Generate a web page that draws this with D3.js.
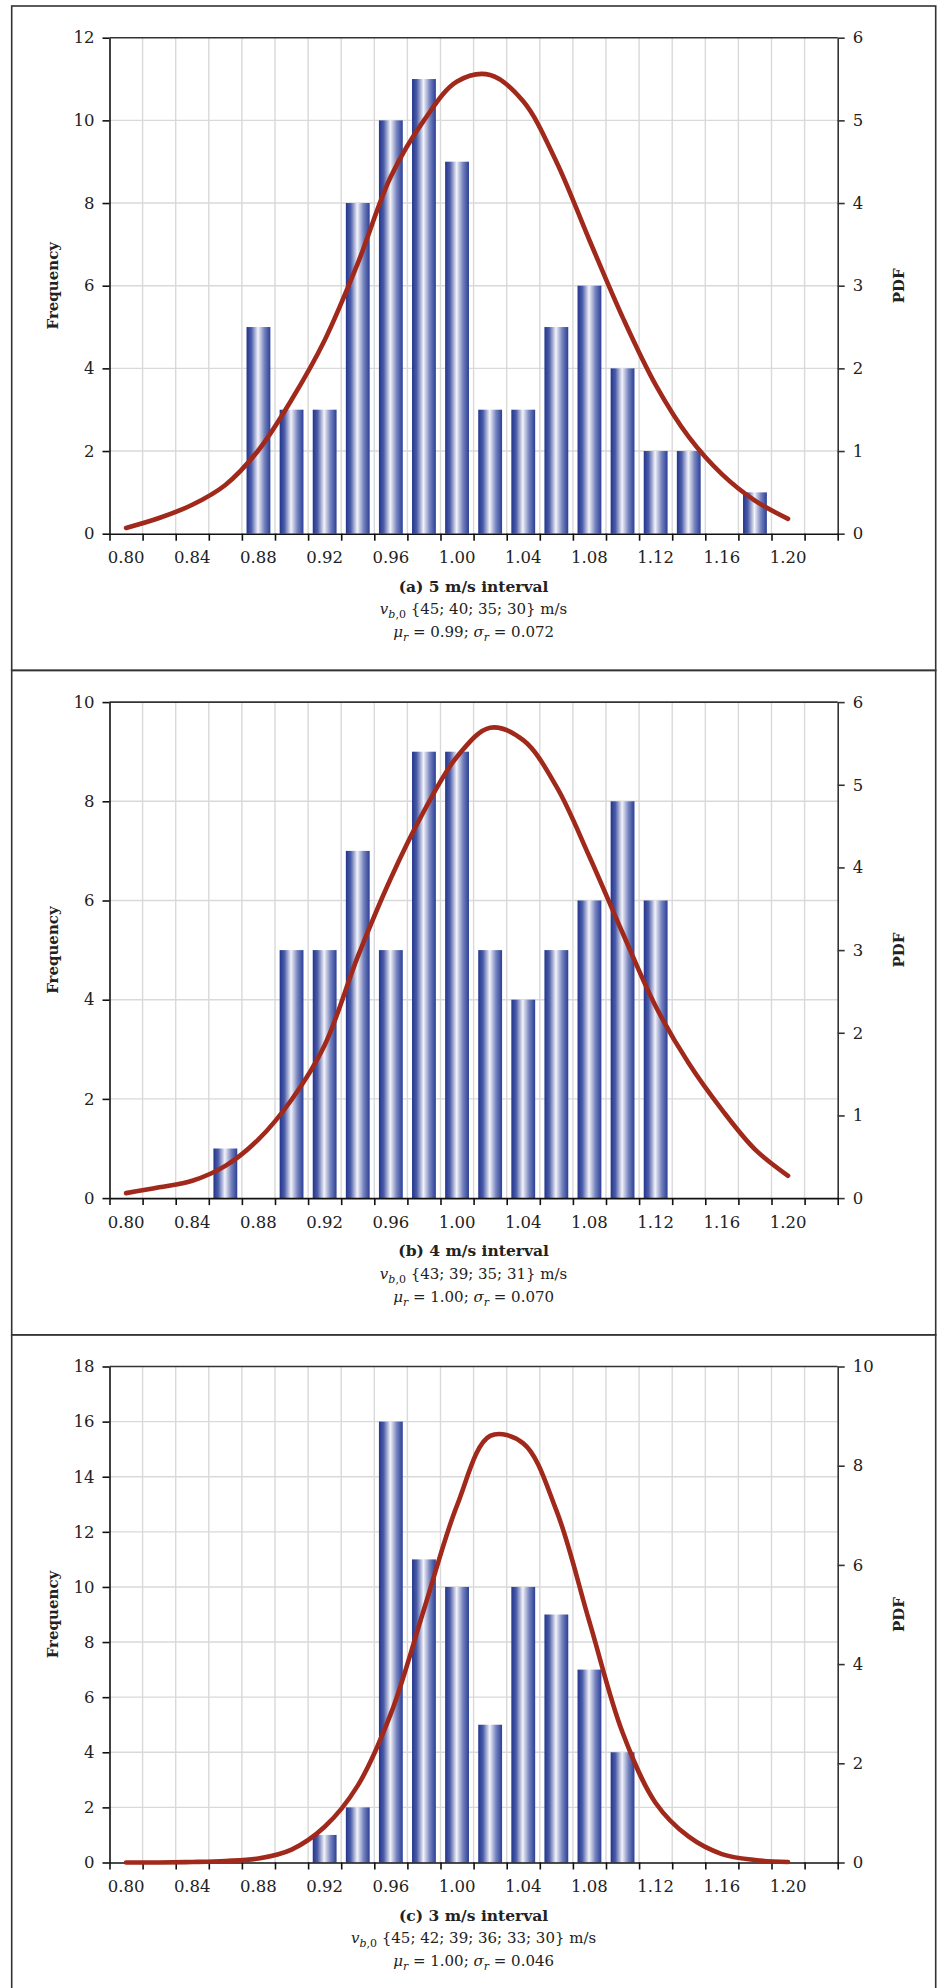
<!DOCTYPE html>
<html>
<head>
<meta charset="utf-8">
<script src="https://cdn.jsdelivr.net/npm/d3@7"></script>
<style>
    body { margin: 0; background: #fff; }
    text { font-family: "DejaVu Serif", serif; fill: #222; }
</style>
</head>
<body>
<svg id="chart" width="940" height="1988"></svg>
<script>
// categories of the histogram (bin labels, 0.02 wide)
const categories = ['0.80','0.82','0.84','0.86','0.88','0.90','0.92','0.94','0.96','0.98','1.00',
                    '1.02','1.04','1.06','1.08','1.10','1.12','1.14','1.16','1.18','1.20','1.22']
const tickLabels = ['0.80','0.84','0.88','0.92','0.96','1.00','1.04','1.08','1.12','1.16','1.20']
// the PDF line runs from 0.80 to 1.20
const pdfCategories = categories.slice(0, 21)

// (a) 5 m/s interval
const freqA = [0,0,0,0,5,3,3,8,10,11,9,3,3,5,6,4,2,2,0,1,0,0]
const pdfA  = [0.07,0.19,0.35,0.59,1.01,1.62,2.34,3.27,4.32,5.00,5.47,5.55,5.23,4.50,3.55,2.62,1.80,1.17,0.72,0.40,0.18]
// (b) 4 m/s interval
const freqB = [0,0,0,1,0,5,5,7,5,9,9,5,4,5,6,8,6,0,0,0,0,0]
const pdfB  = [0.06,0.13,0.21,0.39,0.71,1.19,1.85,2.92,3.87,4.68,5.34,5.69,5.54,4.98,4.13,3.21,2.32,1.63,1.07,0.59,0.27]
// (c) 3 m/s interval
const freqC = [0,0,0,0,0,0,1,2,16,11,10,5,10,9,7,4,0,0,0,0,0,0]
const pdfC  = [0.00,0.00,0.01,0.03,0.08,0.26,0.72,1.55,3.00,5.10,7.20,8.60,8.45,7.10,4.85,2.62,1.20,0.52,0.17,0.05,0.01]

const freqMax = [12, 10, 18]
const pdfMax  = [6, 6, 10]
const pdfStep = [1, 1, 2]
const titles  = ['(a) 5 m/s interval', '(b) 4 m/s interval', '(c) 3 m/s interval']
const speeds  = [' {45; 40; 35; 30} m/s', ' {43; 39; 35; 31} m/s', ' {45; 42; 39; 36; 33; 30} m/s']
const muVals  = ['0.99', '1.00', '1.00']
const sigVals = ['0.072', '0.070', '0.046']

const panels = [
    { freq: freqA, pdf: pdfA },
    { freq: freqB, pdf: pdfB },
    { freq: freqC, pdf: pdfC }
].map((p, i) => Object.assign(p, {
    freqMax: freqMax[i], pdfMax: pdfMax[i], pdfStep: pdfStep[i],
    title: titles[i], speeds: speeds[i], mu: muVals[i], sigma: sigVals[i]
}))

const svg = d3.select('#chart')
const left = 109.5
const plotW = 728.2
const plotH = 496
const panelH = 664.4
const firstTop = 37.7

const defs = svg.append('defs')
const grad = defs.append('linearGradient')
    .attr('id', 'barFill')
    .attr('x1', '0%').attr('x2', '100%')
    .attr('y1', '0%').attr('y2', '0%')
grad.selectAll('stop')
    .data([[0, '#22358d'], [0.2, '#4b5ca8'], [0.48, '#f3f3f9'], [0.75, '#7482bd'], [1, '#2b3e96']])
    .join('stop')
    .attr('offset', d => d[0])
    .attr('stop-color', d => d[1])

const x = d3.scaleBand()
    .domain(categories)
    .range([0, plotW])
    .paddingInner(0.28)
    .paddingOuter(0.14)

const xEdge = d3.scaleLinear()
    .domain([0, categories.length])
    .range([0, plotW])

panels.forEach((p, k) => drawPanel(p, k))

function drawPanel(p, k) {
    let top = firstTop + k * panelH

    // panel frame
    svg.append('rect')
        .attr('x', 11.7)
        .attr('y', top - 31.7)
        .attr('width', 924)
        .attr('height', panelH)
        .attr('fill', 'none')
        .attr('stroke', '#333')
        .attr('stroke-width', 1.6)

    let g = svg.append('g').attr('transform', `translate(${left},${top})`)

    let y = d3.scaleLinear().domain([0, p.freqMax]).range([plotH, 0])
    let y2 = d3.scaleLinear().domain([0, p.pdfMax]).range([plotH, 0])
    let yTicks = d3.range(0, p.freqMax + 1, 2)
    let y2Ticks = d3.range(0, p.pdfMax + p.pdfStep / 2, p.pdfStep)

    // grid
    g.append('g')
        .selectAll('line')
        .data(yTicks.slice(1, -1))
        .join('line')
        .attr('x1', 0).attr('x2', plotW)
        .attr('y1', d => y(d)).attr('y2', d => y(d))
        .attr('stroke', '#d9d9d9')
        .attr('stroke-width', 1.4)

    g.append('g')
        .selectAll('line')
        .data(d3.range(1, categories.length))
        .join('line')
        .attr('x1', d => xEdge(d)).attr('x2', d => xEdge(d))
        .attr('y1', 0).attr('y2', plotH)
        .attr('stroke', '#d9d9d9')
        .attr('stroke-width', 1.4)

    // bars
    let barData = categories.map((c, i) => ({ c: c, v: p.freq[i] })).filter(d => d.v > 0)
    g.append('g')
        .selectAll('rect')
        .data(barData)
        .join('rect')
        .attr('x', d => x(d.c))
        .attr('width', x.bandwidth())
        .attr('y', d => y(d.v))
        .attr('height', d => plotH - y(d.v))
        .attr('fill', 'url(#barFill)')

    // top border
    g.append('line')
        .attr('x1', 0).attr('x2', plotW)
        .attr('y1', 0).attr('y2', 0)
        .attr('stroke', '#333')
        .attr('stroke-width', 1.6)

    // left axis
    let axL = g.append('g')
        .call(d3.axisLeft(y).tickValues(yTicks).tickFormat(d3.format('d')).tickSize(7).tickSizeOuter(0).tickPadding(8))
        .attr('font-size', 16.5)
    axL.selectAll('path, line').attr('stroke', '#111').attr('stroke-width', 1.6)

    // right axis
    let axR = g.append('g')
        .attr('transform', `translate(${plotW},0)`)
        .call(d3.axisRight(y2).tickValues(y2Ticks).tickFormat(d3.format('d')).tickSize(7).tickSizeOuter(0).tickPadding(8))
        .attr('font-size', 16.5)
    axR.selectAll('path, line').attr('stroke', '#333').attr('stroke-width', 1.6)

    // bottom axis: ticks at bin edges, labels at bin centres
    let axB = g.append('g')
        .attr('transform', `translate(0,${plotH})`)
        .call(d3.axisBottom(xEdge).tickValues(d3.range(0, categories.length + 1)).tickFormat('').tickSize(7).tickSizeOuter(0))
    axB.selectAll('path, line').attr('stroke', '#111').attr('stroke-width', 1.6)

    let axLabels = g.append('g')
        .attr('transform', `translate(0,${plotH})`)
        .call(d3.axisBottom(x).tickValues(tickLabels).tickSize(0).tickPadding(18))
        .attr('font-size', 16.5)
    axLabels.select('.domain').remove()

    // PDF curve
    let line = d3.line()
        .x((d, i) => x(pdfCategories[i]) + x.bandwidth() / 2)
        .y(d => y2(d))
        .curve(d3.curveCatmullRom.alpha(0.5))

    g.append('path')
        .datum(p.pdf)
        .attr('d', line)
        .attr('fill', 'none')
        .attr('stroke', '#a0291b')
        .attr('stroke-width', 4.6)
        .attr('stroke-linecap', 'round')
        .attr('stroke-linejoin', 'round')

    // axis titles
    g.append('text')
        .attr('transform', `translate(${58 - left},${plotH / 2}) rotate(-90)`)
        .attr('text-anchor', 'middle')
        .attr('font-size', 15)
        .attr('font-weight', 'bold')
        .text('Frequency')

    g.append('text')
        .attr('transform', `translate(${904 - left},${plotH / 2}) rotate(-90)`)
        .attr('text-anchor', 'middle')
        .attr('font-size', 15)
        .attr('font-weight', 'bold')
        .text('PDF')

    // captions
    let cx = plotW / 2
    g.append('text')
        .attr('x', cx).attr('y', plotH + 58)
        .attr('text-anchor', 'middle')
        .attr('font-size', 15.5)
        .attr('font-weight', 'bold')
        .text(p.title)

    let t2 = g.append('text')
        .attr('x', cx).attr('y', plotH + 80.6)
        .attr('text-anchor', 'middle')
        .attr('font-size', 15)
    t2.append('tspan').attr('font-style', 'italic').text('v')
    t2.append('tspan').attr('font-size', 11).attr('dy', 4).attr('font-style', 'italic').text('b')
    t2.append('tspan').attr('font-size', 11).text(',0')
    t2.append('tspan').attr('dy', -4).text(p.speeds)

    let t3 = g.append('text')
        .attr('x', cx).attr('y', plotH + 103.6)
        .attr('text-anchor', 'middle')
        .attr('font-size', 15)
    t3.append('tspan').attr('font-style', 'italic').text('μ')
    t3.append('tspan').attr('font-size', 11).attr('dy', 4).attr('font-style', 'italic').text('r')
    t3.append('tspan').attr('dy', -4).text(' = ' + p.mu + '; ')
    t3.append('tspan').attr('font-style', 'italic').text('σ')
    t3.append('tspan').attr('font-size', 11).attr('dy', 4).attr('font-style', 'italic').text('r')
    t3.append('tspan').attr('dy', -4).text(' = ' + p.sigma)
}
</script>
</body>
</html>
